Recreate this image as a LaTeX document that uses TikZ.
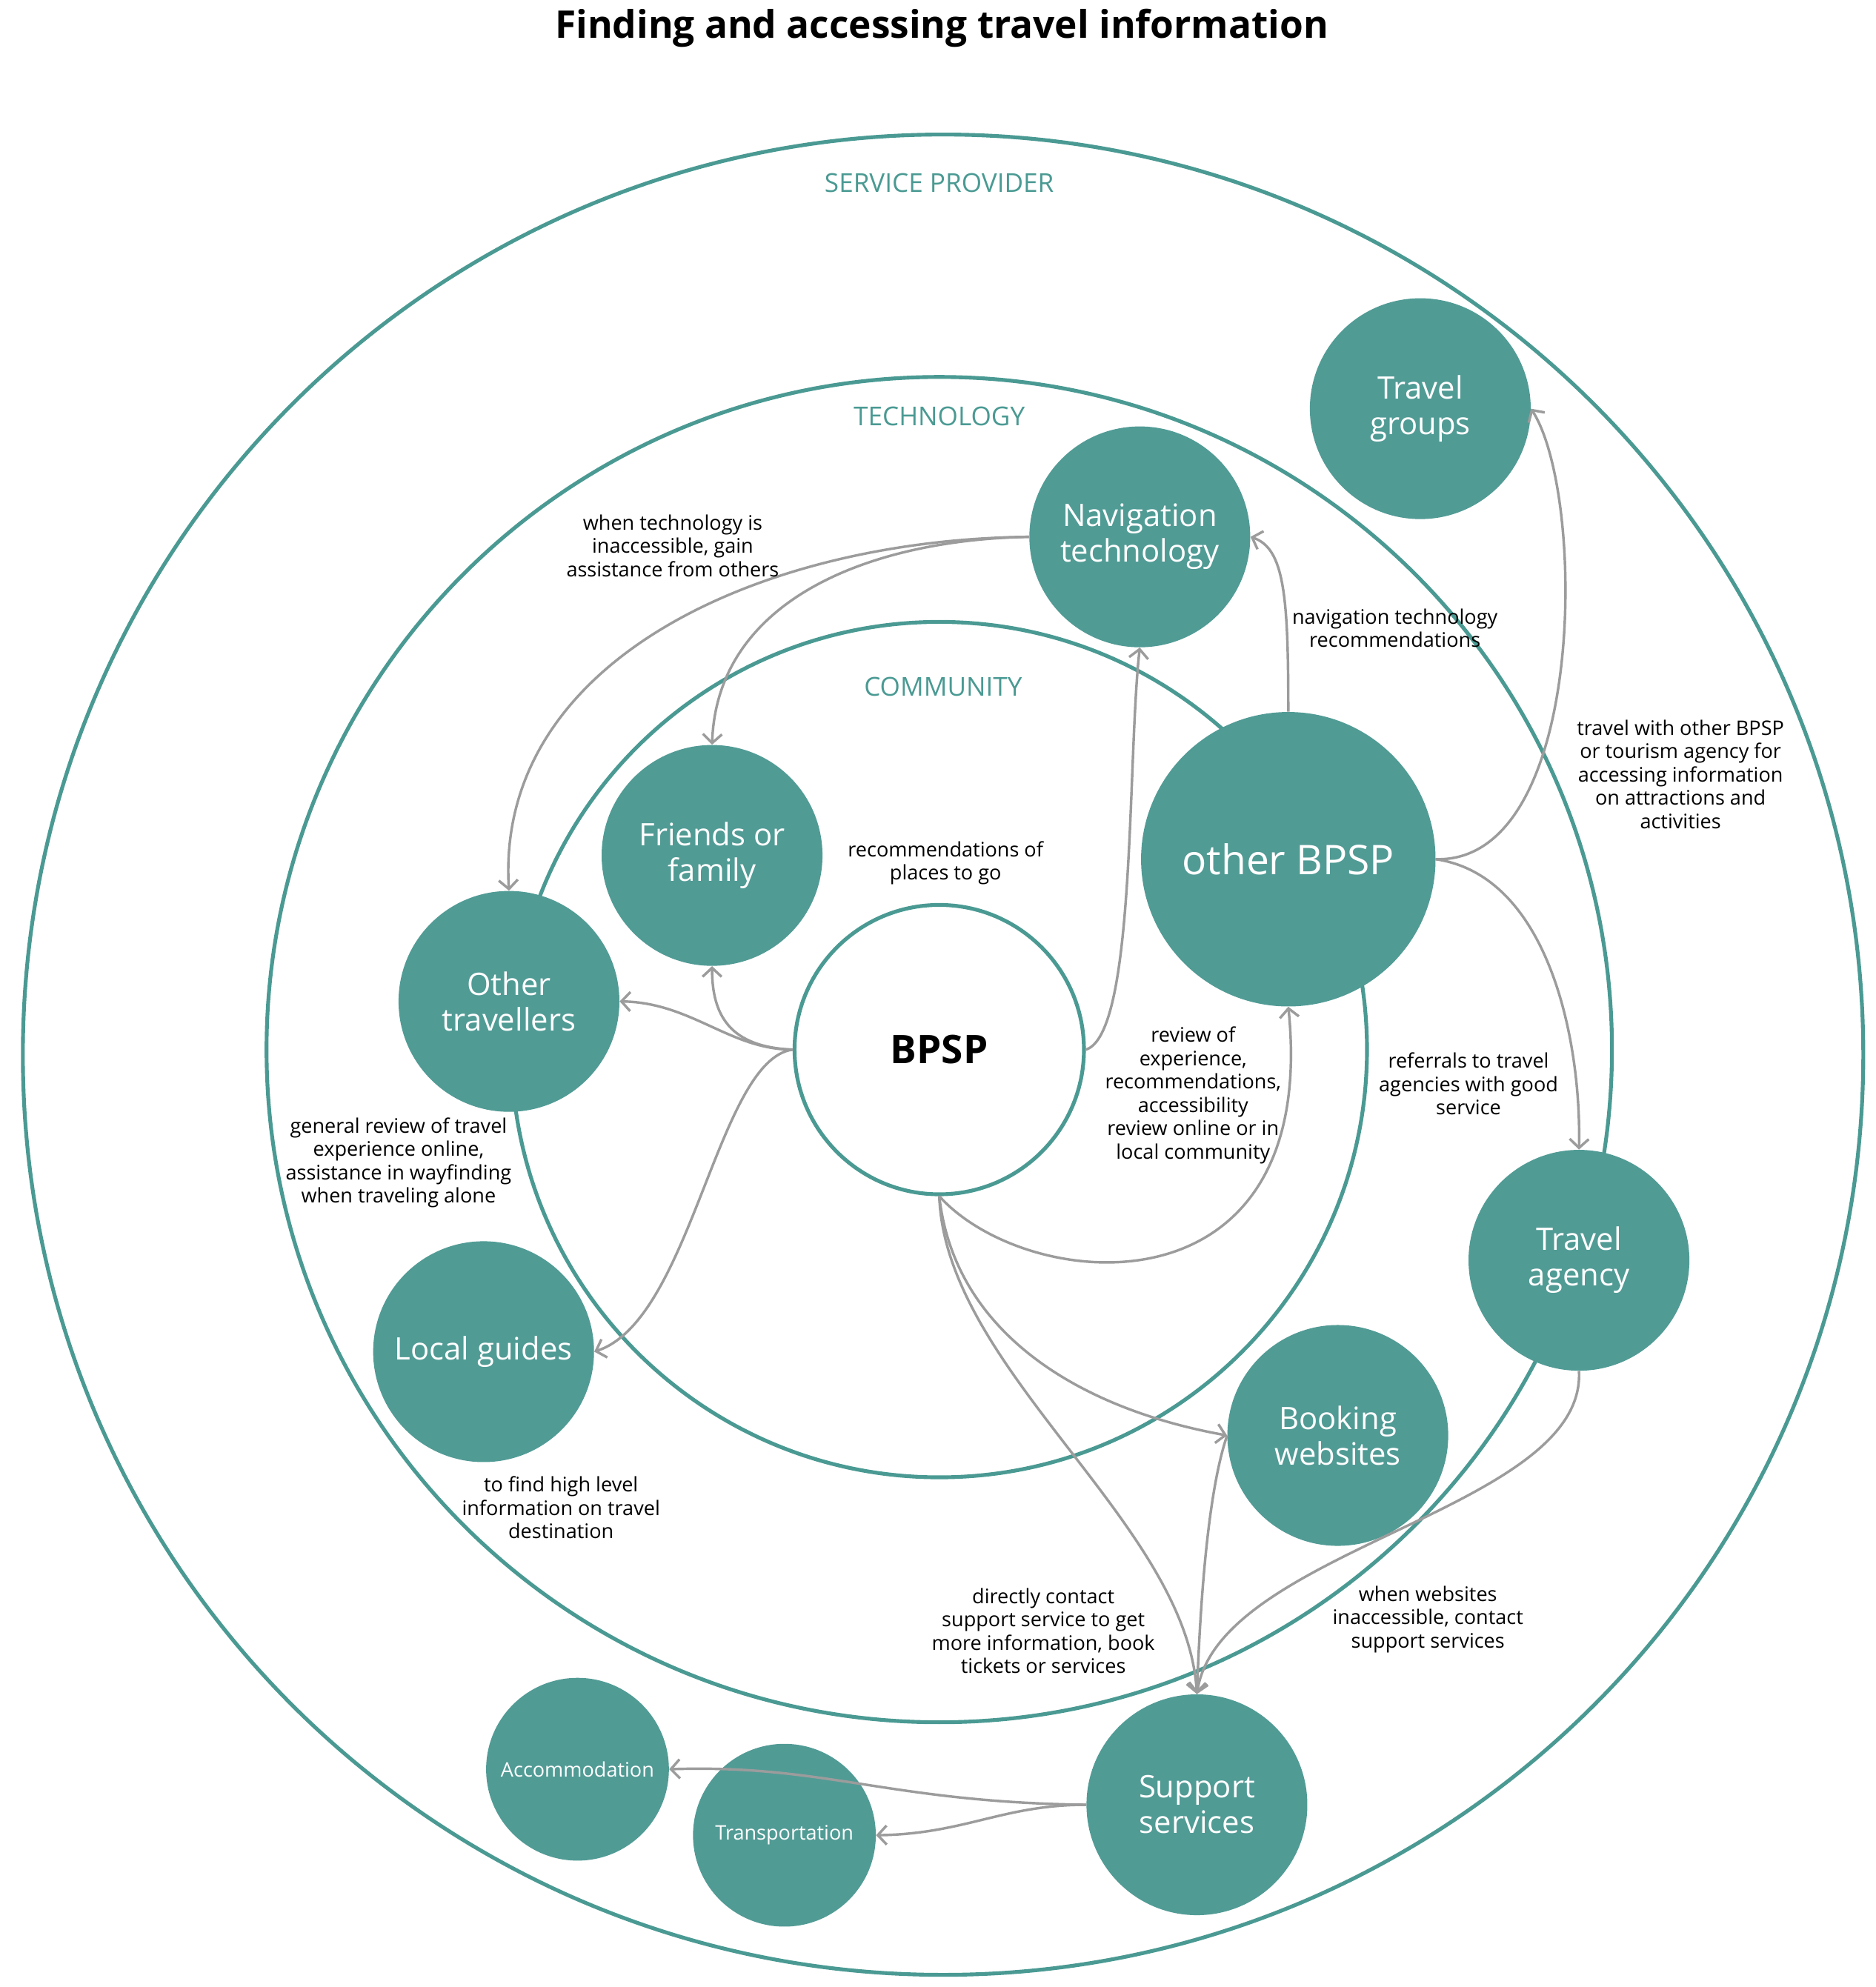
\documentclass[tikz,border=0pt]{standalone}
\usepackage{fontspec}
\setmainfont{Open Sans}
\usetikzlibrary{arrows.meta}
\definecolor{teal1}{HTML}{519B95}
\definecolor{ring}{HTML}{4A9A93}
\definecolor{arr}{HTML}{9C9C9C}
\tikzset{
 bub/.style={circle, fill=teal1, draw=none, inner sep=0pt, text=white, align=center, font=\fontsize{24.4}{28}\selectfont},
 lab/.style={align=center, font=\fontsize{15.8}{18.4}\selectfont, text=black},
 ringlab/.style={text=ring, font=\fontsize{20.5}{24}\selectfont},
 conn/.style={draw=arr, line width=2pt, -{Straight Barb[length=7pt,width=15pt]}},
 ringc/.style={draw=ring, line width=3pt}
}
\begin{document}
\begin{tikzpicture}[x=1pt,y=-1pt]
\useasboundingbox[fill=white] (0,0) rectangle (1478,1565.6);
% rings
\draw[ringc] (743,831) circle[radius=725];
\draw[ringc] (740,827) circle[radius=530];
\draw[ringc] (740,827) circle[radius=337];
\node[ringlab] (rsp) at (740,144) {SERVICE PROVIDER};
\node[ringlab] (rte) at (740,328) {TECHNOLOGY};
\node[ringlab] (rco) at (743,541) {COMMUNITY};
% title
\node[font=\fontsize{30}{36}\selectfont\bfseries] (title) at (742,22) {Finding and accessing travel information};
% nodes
\node[bub, minimum size=174pt] (tg) at (1119,322) {Travel\\groups};
\node[bub, minimum size=174pt] (nav) at (898,423) {Navigation\\technology};
\node[bub, minimum size=174pt] (ff) at (561,674) {Friends or\\family};
\node[bub, minimum size=232pt, font=\fontsize{32.2}{36}\selectfont] (ob) at (1015,677) {other BPSP};
\node[bub, minimum size=174pt] (ot) at (401,789) {Other\\travellers};
\node[bub, minimum size=174pt] (lg) at (381,1065) {Local guides};
\node[bub, minimum size=174pt] (ta) at (1244,993) {Travel\\agency};
\node[bub, minimum size=174pt] (bw) at (1054,1131) {Booking\\websites};
\node[bub, minimum size=174pt] (ss) at (943,1422) {Support\\services};
\node[bub, minimum size=144pt, font=\fontsize{15.8}{18}\selectfont] (ac) at (455,1394) {Accommodation};
\node[bub, minimum size=144pt, font=\fontsize{15.8}{18}\selectfont] (tr) at (618,1446) {Transportation};
\node[circle, fill=white, draw=ring, line width=3pt, inner sep=0pt, minimum size=228pt, font=\fontsize{31}{38}\selectfont\bfseries] (bp) at (740,827) {BPSP};
% connectors
\draw[conn] (nav.west) .. controls (600,425) and (390,520) .. (ot.north);
\draw[conn] (nav.west) .. controls (690,425) and (565,470) .. (ff.north);
\draw[conn] (bp.east) .. controls (895,815) and (888,600) .. (nav.south);
\draw[conn] (ob.north) .. controls (1015,470) and (1012,432) .. (nav.east);
\draw[conn] (ob.east) .. controls (1250,680) and (1250,390) .. (tg.east);
\draw[conn] (ob.east) .. controls (1220,690) and (1246,820) .. (ta.north);
\draw[conn] (bp.west) .. controls (575,827) and (545,790) .. (ot.east);
\draw[conn] (bp.west) .. controls (575,825) and (561,800) .. (ff.south);
\draw[conn] (bp.west) .. controls (565,835) and (545,1040) .. (lg.east);
\draw[conn] (bp.south) .. controls (810,1020) and (1040,1040) .. (ob.south);
\draw[conn] (bp.south) .. controls (752,1050) and (850,1110) .. (bw.west);
\draw[conn] (bp.south) .. controls (745,1080) and (935,1200) .. (ss.north);
\draw[conn] (bw.west) .. controls (950,1180) and (945,1280) .. (ss.north);
\draw[conn] (ta.south) .. controls (1250,1190) and (960,1220) .. (ss.north);
\draw[conn] (ss.west) .. controls (700,1420) and (650,1390) .. (ac.east);
\draw[conn] (ss.west) .. controls (790,1422) and (760,1445) .. (tr.east);
% labels
\node[lab] (l1) at (530,430) {when technology is\\inaccessible, gain\\assistance from others};
\node[lab] (l2) at (1099,495) {navigation technology\\recommendations};
\node[lab] (l3) at (1324,610) {travel with other BPSP\\or tourism agency for\\accessing information\\on attractions and\\activities};
\node[lab] (l4) at (745,680) {recommendations of\\places to go};
\node[lab] (l5) at (940,863) {review of\\experience,\\recommendations,\\accessibility\\review online or in\\local community};
\node[lab] (l6) at (1157,854) {referrals to travel\\agencies with good\\service};
\node[lab] (l7) at (314,916) {general review of travel\\experience online,\\assistance in wayfinding\\when traveling alone};
\node[lab] (l8) at (442,1188) {to find high level\\information on travel\\destination};
\node[lab] (l9) at (822,1285) {directly contact\\support service to get\\more information, book\\tickets or services};
\node[lab] (l10) at (1125,1276) {when websites\\inaccessible, contact\\support services};
\end{tikzpicture}
\end{document}
